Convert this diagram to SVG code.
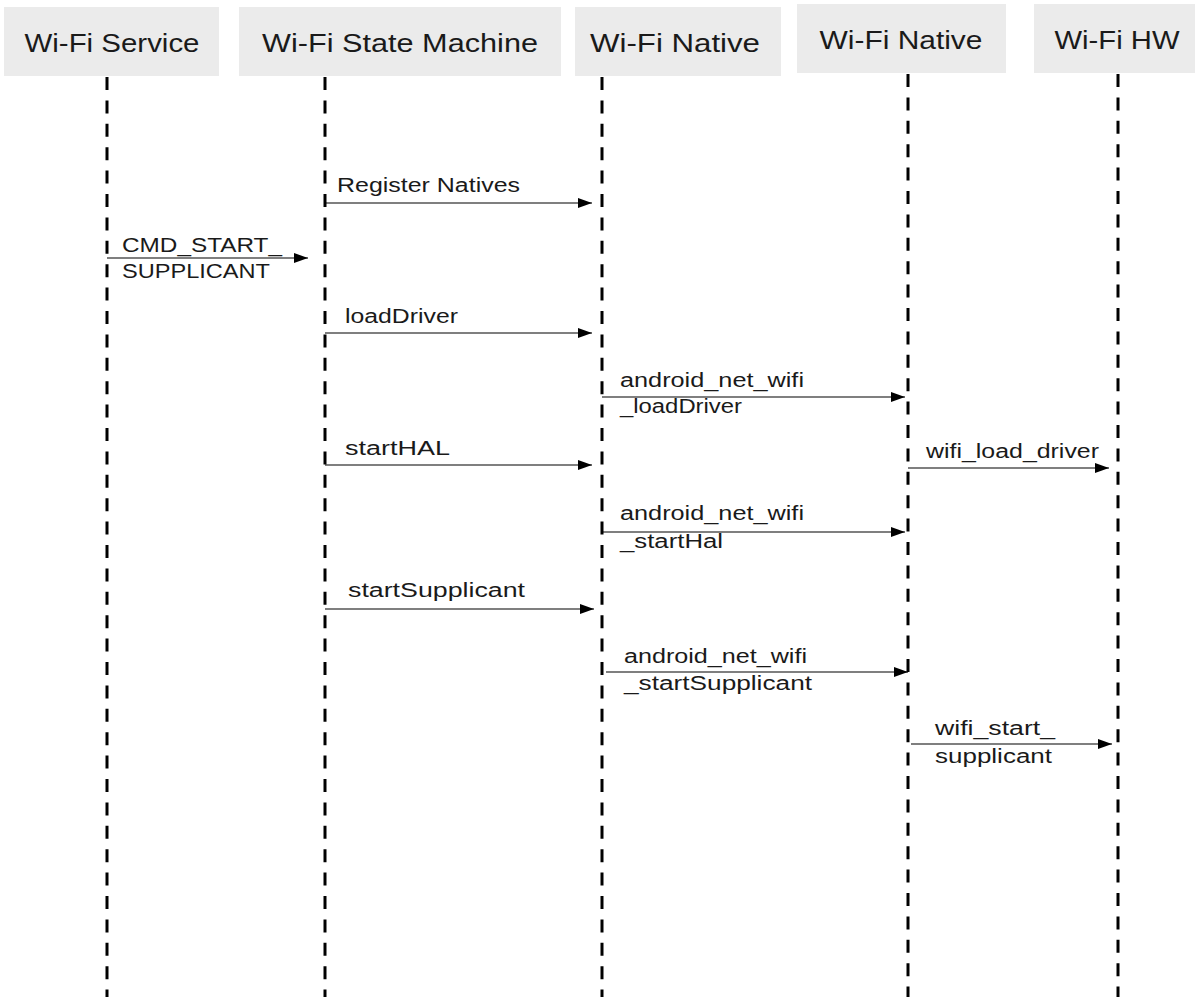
<svg xmlns="http://www.w3.org/2000/svg" width="1195" height="997" viewBox="0 0 1195 997">
<style>
.box{fill:#ebebeb}
.ht{font-family:"Liberation Sans",Arial,sans-serif;font-size:26px;fill:#1a1a1a;text-anchor:middle}
.lt{font-family:"Liberation Sans",Arial,sans-serif;font-size:20px;fill:#1a1a1a}
.life{stroke:#000;stroke-width:3;stroke-dasharray:13 10.4;fill:none}
.msg{stroke:#000;stroke-width:1.2;fill:none;marker-end:url(#ah)}
</style>
<defs>
<marker id="ah" markerWidth="14" markerHeight="10" refX="14" refY="5" orient="auto" markerUnits="userSpaceOnUse">
<path d="M0,0 L14,5 L0,10 Z" fill="#000"/>
</marker>
</defs>
<rect width="1195" height="997" fill="#fff"/>
<g id="wifi-service">
<rect class="box" x="4" y="7" width="215" height="69"/>
<text class="ht" x="112" y="52" textLength="175" lengthAdjust="spacingAndGlyphs">Wi-Fi Service</text>
<line class="life" x1="107" y1="77" x2="107" y2="997"/>
</g>
<g id="wifi-state-machine">
<rect class="box" x="239" y="7" width="322" height="69"/>
<text class="ht" x="400" y="52" textLength="276" lengthAdjust="spacingAndGlyphs">Wi-Fi State Machine</text>
<line class="life" x1="325" y1="77" x2="325" y2="997"/>
</g>
<g id="wifi-native-1">
<rect class="box" x="575" y="7" width="206" height="69"/>
<text class="ht" x="675" y="52" textLength="170" lengthAdjust="spacingAndGlyphs">Wi-Fi Native</text>
<line class="life" x1="602" y1="77" x2="602" y2="997"/>
</g>
<g id="wifi-native-2">
<rect class="box" x="797" y="4" width="209" height="69"/>
<text class="ht" x="901" y="49" textLength="163" lengthAdjust="spacingAndGlyphs">Wi-Fi Native</text>
<line class="life" x1="908" y1="74" x2="908" y2="997"/>
</g>
<g id="wifi-hw">
<rect class="box" x="1034" y="4" width="166" height="69"/>
<text class="ht" x="1117" y="49" textLength="125" lengthAdjust="spacingAndGlyphs">Wi-Fi HW</text>
<line class="life" x1="1118" y1="74" x2="1118" y2="997"/>
</g>
<g id="connectors">
<line class="msg" x1="325" y1="203" x2="592" y2="203"/>
<line class="msg" x1="107" y1="258" x2="308" y2="258"/>
<line class="msg" x1="325" y1="333" x2="592" y2="333"/>
<line class="msg" x1="602" y1="397" x2="905" y2="397"/>
<line class="msg" x1="325" y1="465" x2="592" y2="465"/>
<line class="msg" x1="908" y1="468" x2="1109" y2="468"/>
<line class="msg" x1="602" y1="532" x2="905" y2="532"/>
<line class="msg" x1="325" y1="609" x2="594" y2="609"/>
<line class="msg" x1="606" y1="672" x2="908" y2="672"/>
<line class="msg" x1="911" y1="744" x2="1112" y2="744"/>
</g>
<g id="labels">
<text class="lt" x="337" y="192" textLength="183" lengthAdjust="spacingAndGlyphs">Register Natives</text>
<text class="lt" x="122" y="252" textLength="160" lengthAdjust="spacingAndGlyphs">CMD_START_</text>
<text class="lt" x="122" y="278" textLength="148" lengthAdjust="spacingAndGlyphs">SUPPLICANT</text>
<text class="lt" x="345" y="323" textLength="113" lengthAdjust="spacingAndGlyphs">loadDriver</text>
<text class="lt" x="620" y="387" textLength="184" lengthAdjust="spacingAndGlyphs">android_net_wifi</text>
<text class="lt" x="620" y="413" textLength="122" lengthAdjust="spacingAndGlyphs">_loadDriver</text>
<text class="lt" x="345" y="455" textLength="105" lengthAdjust="spacingAndGlyphs">startHAL</text>
<text class="lt" x="926" y="458" textLength="173" lengthAdjust="spacingAndGlyphs">wifi_load_driver</text>
<text class="lt" x="620" y="520" textLength="184" lengthAdjust="spacingAndGlyphs">android_net_wifi</text>
<text class="lt" x="620" y="548" textLength="103" lengthAdjust="spacingAndGlyphs">_startHal</text>
<text class="lt" x="348" y="597" textLength="177" lengthAdjust="spacingAndGlyphs">startSupplicant</text>
<text class="lt" x="624" y="663" textLength="183" lengthAdjust="spacingAndGlyphs">android_net_wifi</text>
<text class="lt" x="624" y="690" textLength="188" lengthAdjust="spacingAndGlyphs">_startSupplicant</text>
<text class="lt" x="935" y="735" textLength="120" lengthAdjust="spacingAndGlyphs">wifi_start_</text>
<text class="lt" x="935" y="763" textLength="117" lengthAdjust="spacingAndGlyphs">supplicant</text>
</g>
</svg>
